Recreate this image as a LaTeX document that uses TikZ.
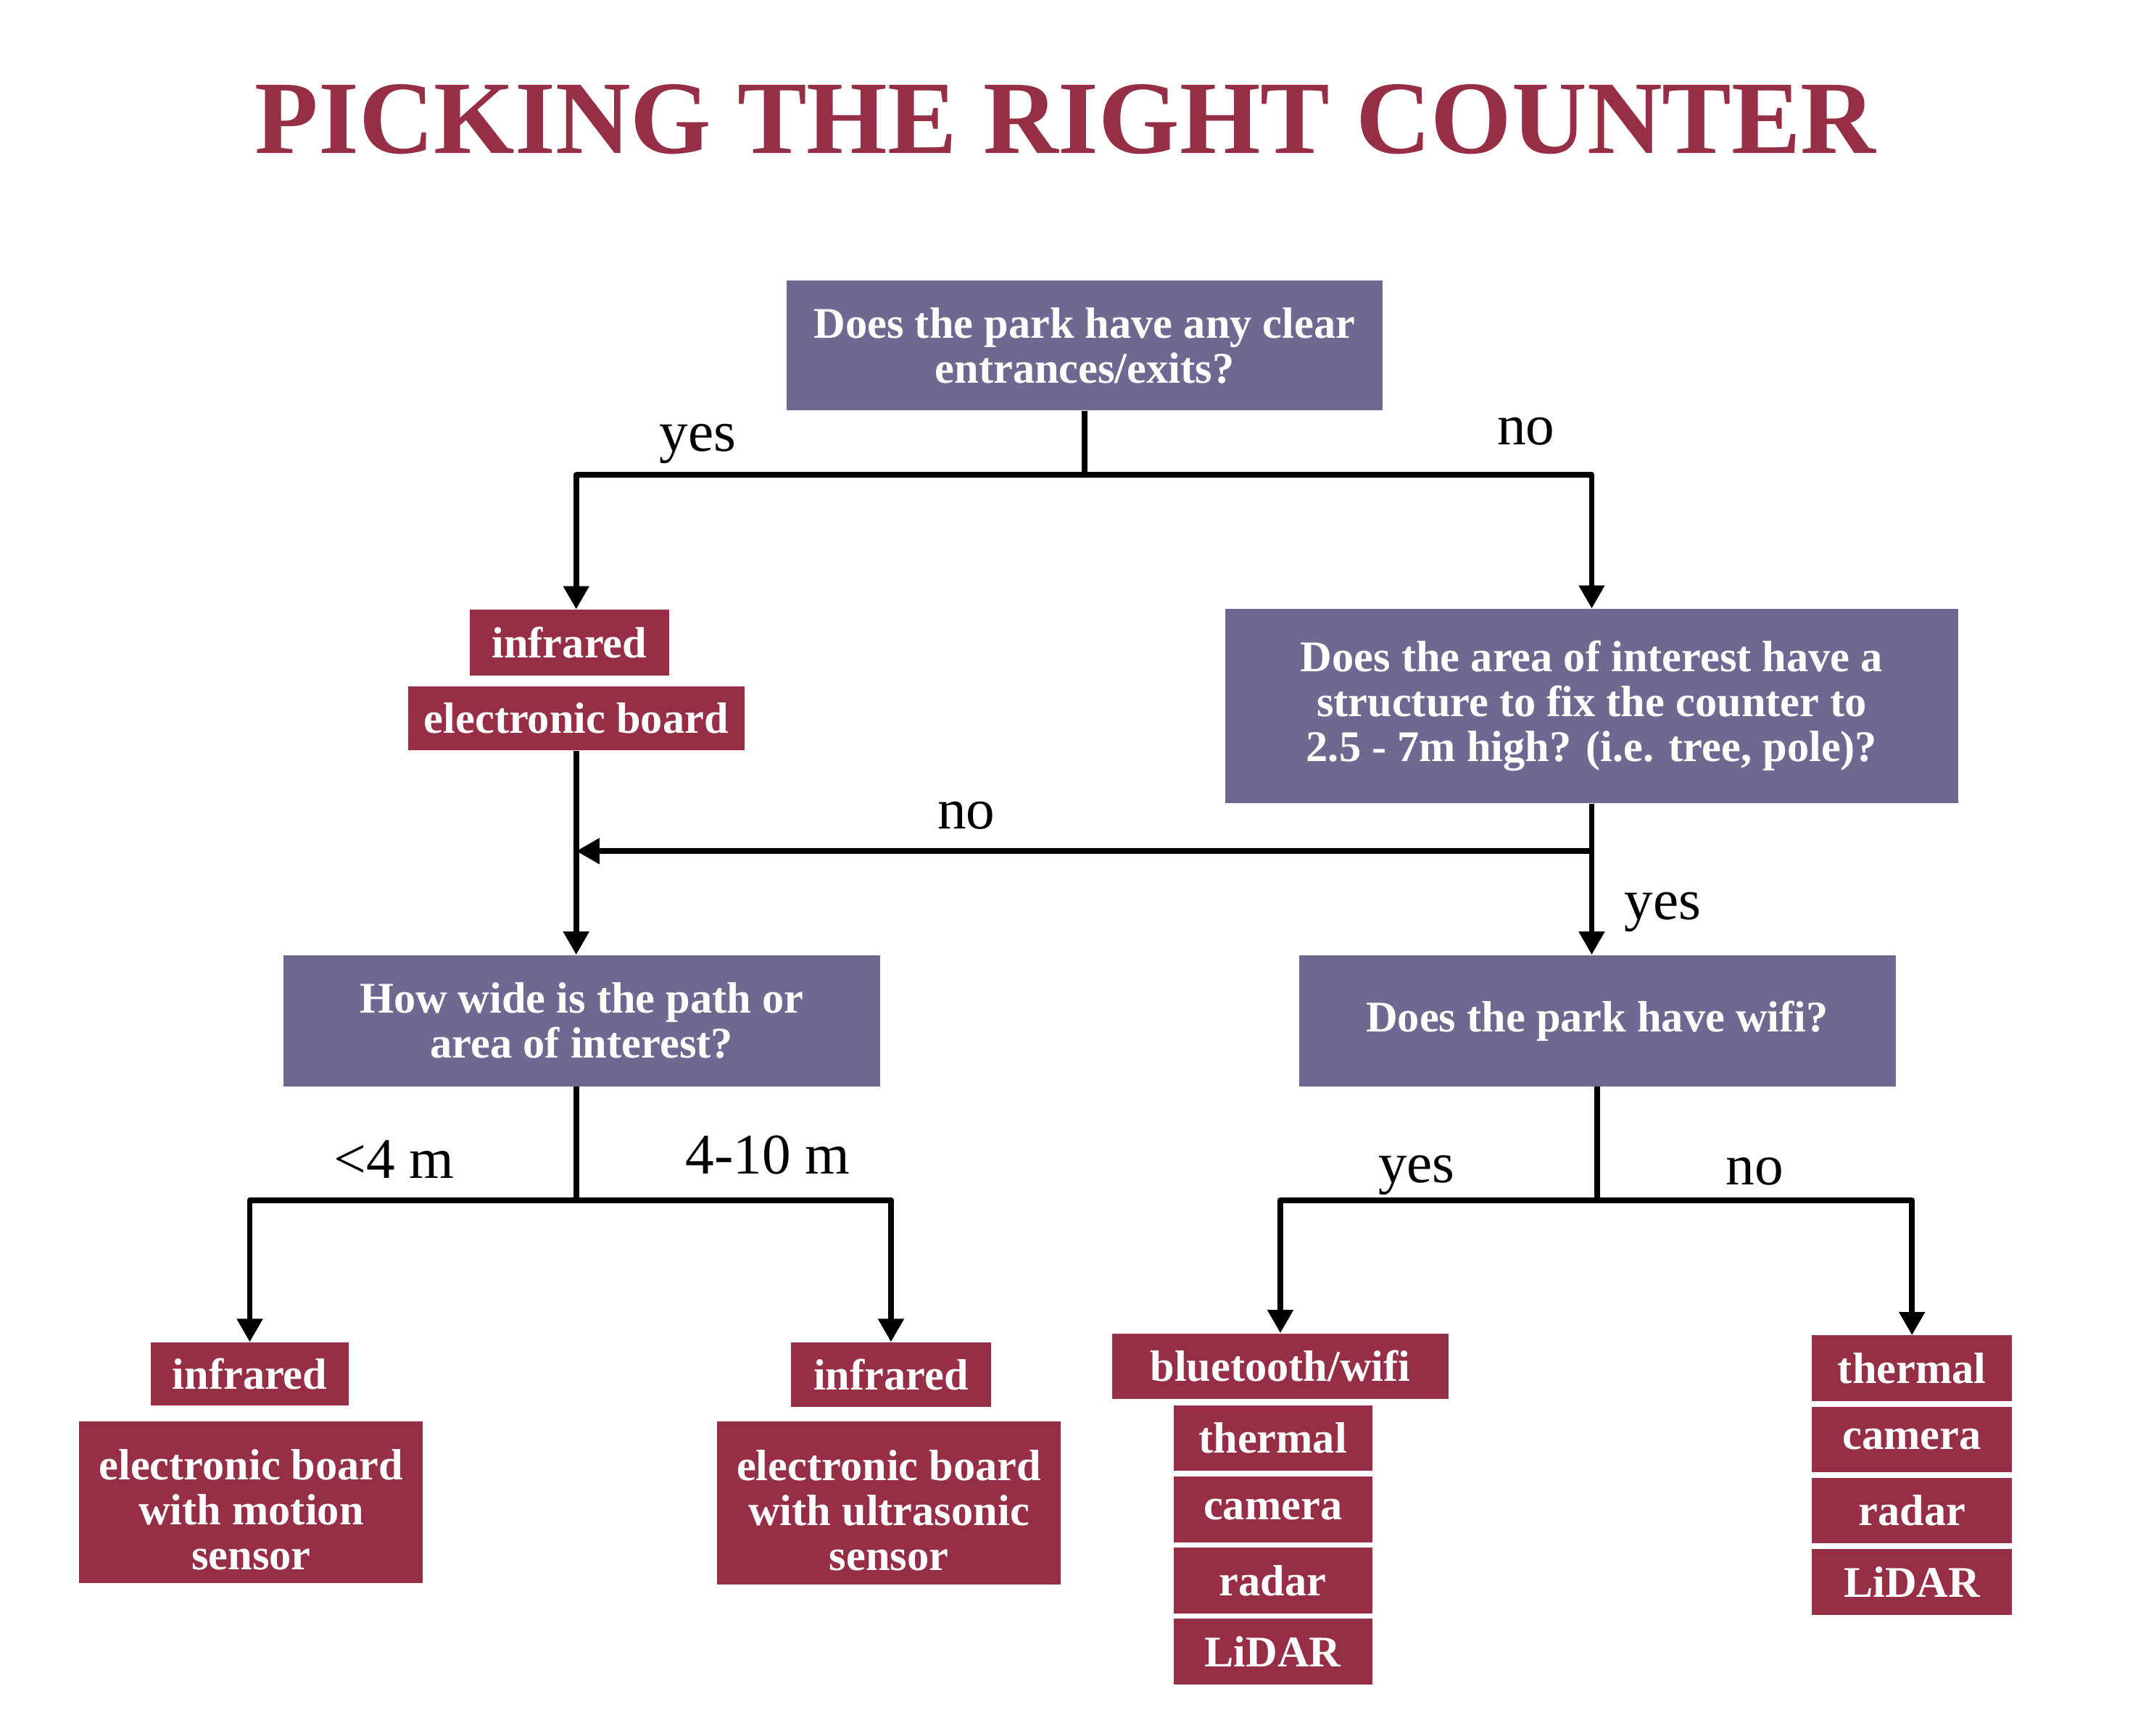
\documentclass[tikz,border=0pt]{standalone}
\usepackage{fontspec}
\setmainfont{Liberation Serif}
\usepackage{tikz}
\usetikzlibrary{shapes.geometric, arrows.meta, positioning}
\definecolor{plum}{HTML}{6F6890}
\definecolor{wine}{HTML}{962E45}
\tikzstyle{question} = [rectangle, minimum width=436pt, minimum height=96pt, inner sep=0pt, align=center, text=white, fill=plum, font=\fontsize{32}{33}\selectfont\bfseries]
\tikzstyle{answer} = [rectangle, minimum width=146pt, minimum height=48pt, inner sep=0pt, align=center, text=white, fill=wine, font=\fontsize{32}{33}\selectfont\bfseries]
\tikzstyle{branch} = [anchor=base, font=\fontsize{42}{44}\selectfont]
\tikzstyle{connector} = [line width=4.2pt, line join=round]
\tikzstyle{arrow} = [line width=4.2pt, line join=round, -{Triangle[length=17pt,width=18pt]}]

\begin{document}
\begin{tikzpicture}[x=1pt, y=-1pt, node distance=52pt]
\useasboundingbox (0,0) rectangle (1568,1268.7);
\node (title) [anchor=base, text=wine, font=\fontsize{76}{80}\selectfont\bfseries] at (778.5,112) {PICKING THE RIGHT COUNTER};
% questions
\node (entrances) [question, minimum width=435pt, minimum height=95pt] at (792.5,252.5) {Does the park have any clear\\entrances/exits?};
\node (structure) [question, minimum width=536pt, minimum height=142pt] at (1163,516) {Does the area of interest have a\\structure to fix the counter to\\2.5 - 7m high? (i.e. tree, pole)?};
\node (width) [question] at (425,746) {How wide is the path or\\area of interest?};
\node (wifi) [question] at (1167,746) {Does the park have wifi?};
% counters
\node (irA) [answer] at (416,469.5) {infrared};
\node (boardA) [answer, minimum width=246pt, minimum height=47pt] at (421,525) {electronic board};
\node (irB) [answer, minimum width=145pt, minimum height=46pt] at (182.5,1004) {infrared};
\node (boardB) [answer, minimum width=251pt, minimum height=118pt] at (183.5,1098) {\rule{0pt}{33pt}electronic board\\with motion\\sensor};
\node (irC) [answer, minimum height=47pt] at (651,1004.5) {infrared};
\node (boardC) [answer, minimum width=251pt, minimum height=119pt] at (649.5,1098.5) {\rule{0pt}{33pt}electronic board\\with ultrasonic\\sensor};
\node (bluetooth) [answer, minimum width=246pt] at (935.5,998.5) {bluetooth/wifi};
\node (thermalA) [answer, minimum width=145pt] at (930,1051) {thermal};
\node (cameraA) [answer, minimum width=145pt, below of=thermalA] {camera};
\node (radarA) [answer, minimum width=145pt, below of=cameraA] {radar};
\node (lidarA) [answer, minimum width=145pt, below of=radarA] {LiDAR};
\node (thermalB) [answer] at (1397,1000) {thermal};
\node (cameraB) [answer, below of=thermalB] {camera};
\node (radarB) [answer, below of=cameraB] {radar};
\node (lidarB) [answer, below of=radarB] {LiDAR};
% branch labels
\node (yesA) [branch] at (510,330) {yes};
\node (noA) [branch] at (1115,325) {no};
\node (noB) [branch] at (706,606) {no};
\node (yesB) [branch] at (1215,672) {yes};
\node (narrow) [branch] at (288,861) {<4 m};
\node (wide) [branch] at (561,858) {4-10 m};
\node (yesC) [branch] at (1035,864) {yes};
\node (noC) [branch] at (1282,866) {no};
% connectors
\coordinate (forkA) at (792.5,347);
\coordinate (forkB) at (1163,622);
\coordinate (forkC) at (421,877);
\coordinate (forkD) at (1167,877);
\draw [connector] (entrances.south) -- (forkA);
\draw [arrow] (forkA) -| (irA.north -| boardA);
\draw [arrow] (forkA) -| (structure.north);
\draw [arrow] (boardA.south) -- (boardA.south |- width.north);
\draw [arrow] (structure.south) -- (structure.south |- wifi.north);
\draw [arrow] (forkB) -- (forkB -| boardA);
\draw [connector] (forkC |- width.south) -- (forkC);
\draw [arrow] (forkC) -| (irB.north);
\draw [arrow] (forkC) -| (irC.north);
\draw [connector] (wifi.south) -- (forkD);
\draw [arrow] (forkD) -| (bluetooth.north);
\draw [arrow] (forkD) -| (thermalB.north);
\end{tikzpicture}
\end{document}
